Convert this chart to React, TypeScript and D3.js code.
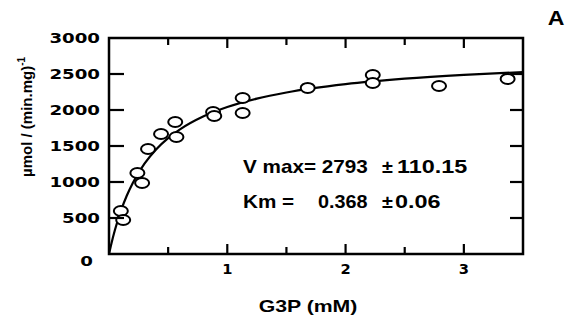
import React from "react";
import * as d3 from "d3";

// measured points: G3P (mM) vs activity
const g3p = [0.1, 0.12, 0.24, 0.28, 0.33, 0.44, 0.56, 0.57, 0.88, 0.89, 1.13, 1.13, 1.68, 2.23, 2.23, 2.79, 3.37];
const activity = [597, 472, 1125, 986, 1458, 1667, 1833, 1625, 1972, 1917, 2167, 1958, 2306, 2486, 2375, 2333, 2431];

// fitted curve
const fitX = [0, 0.02, 0.05, 0.1, 0.15, 0.2, 0.3, 0.4, 0.5, 0.6, 0.8, 1.0, 1.25, 1.5, 2.0, 2.5, 3.0, 3.5];
const fitY = [0, 144, 334, 597, 809, 983, 1254, 1455, 1609, 1731, 1913, 2042, 2158, 2243, 2359, 2435, 2488, 2527];

const yTicks = [0, 500, 1000, 1500, 2000, 2500, 3000];
const yInner = [500, 1000, 1500, 2000, 2500];
const xMajor = [1, 2, 3];
const xMinor = [0.5, 1.5, 2.5];

const width = 567;
const height = 321;
const margin = { left: 109, right: 44, top: 38, bottom: 67 };

const x0 = margin.left;
const x1 = width - margin.right;
const y0 = margin.top;
const y1 = height - margin.bottom;
const x = d3.scaleLinear().domain([0, 3.5]).range([x0, x1]);
const y = d3.scaleLinear().domain([0, 3000]).range([y1, y0]);

const Label = ({
  tx,
  ty,
  text,
  size,
  anchor = "start",
  sx = 1,
  family = "Liberation Sans",
}: {
  tx: number;
  ty: number;
  text: string;
  size: number;
  anchor?: string;
  sx?: number;
  family?: string;
}) => (
  <text
    transform={`translate(${tx},${ty}) scale(${sx},1)`}
    textAnchor={anchor}
    fontFamily={family}
    fontWeight="bold"
    fontSize={size}
    fill="#000"
  >
    {text}
  </text>
);

export default function App() {
  const line = d3
    .line<number>()
    .x((d) => x(d))
    .y((_, i) => y(fitY[i]))
    .curve(d3.curveMonotoneX);

  const xTicks = [...xMajor.map((v) => [v, 10]), ...xMinor.map((v) => [v, 7])];

  return (
    <svg
      width={width}
      height={height}
      style={{ position: "absolute", left: 0, top: 0, background: "#fff" }}
    >
      <path d={line(fitX) ?? ""} fill="none" stroke="#000" strokeWidth={2.2} />

      {g3p.map((d, i) => (
        <ellipse
          key={i}
          cx={x(d)}
          cy={y(activity[i])}
          rx={7}
          ry={5}
          fill="#fff"
          stroke="#000"
          strokeWidth={2}
        />
      ))}

      <rect
        x={x0}
        y={y0}
        width={x1 - x0}
        height={y1 - y0}
        fill="none"
        stroke="#000"
        strokeWidth={2.5}
      />

      {/* inner ticks on all four sides */}
      {yInner.map((v) => (
        <g key={"y" + v}>
          <line x1={x0} x2={x0 + 15} y1={y(v)} y2={y(v)} stroke="#000" strokeWidth={2.2} />
          <line x1={x1 - 13} x2={x1} y1={y(v)} y2={y(v)} stroke="#000" strokeWidth={2.2} />
        </g>
      ))}
      {xTicks.map(([v, len]) => (
        <g key={"x" + v}>
          <line x1={x(v)} x2={x(v)} y1={y0} y2={y0 + len} stroke="#000" strokeWidth={2.2} />
          <line x1={x(v)} x2={x(v)} y1={y1} y2={y1 - len} stroke="#000" strokeWidth={2.2} />
        </g>
      ))}

      {yTicks.map((v) =>
        v === 0 ? (
          <Label key={v} tx={93} ty={y(v) + 12} text="0" size={14} anchor="end" sx={1.3} family="DejaVu Sans" />
        ) : (
          <Label key={v} tx={100} ty={y(v) + 5} text={String(v)} size={14} anchor="end" sx={1.3} family="DejaVu Sans" />
        )
      )}
      {xMajor.map((v) => (
        <Label key={v} tx={x(v)} ty={274} text={String(v)} size={14} anchor="middle" sx={1.05} family="DejaVu Sans" />
      ))}

      <Label tx={308} ty={312} text="G3P (mM)" size={17} anchor="middle" sx={1.25} />
      <text
        transform="translate(32,177) rotate(-90)"
        fontFamily="Liberation Sans"
        fontWeight="bold"
        fontSize={15}
        fill="#000"
      >
        <tspan>µmol / (min.mg)</tspan>
        <tspan fontSize={10} dy={-7}>
          -1
        </tspan>
      </text>

      <Label tx={243} ty={173} text="V max= 2793" size={18} sx={1.15} />
      <Label tx={382} ty={173} text="±" size={18} sx={1.1} />
      <Label tx={397} ty={173} text="110.15" size={18} sx={1.3} />
      <Label tx={243} ty={208} text="Km =" size={18} sx={1.15} />
      <Label tx={318} ty={208} text="0.368" size={18} sx={1.1} />
      <Label tx={382} ty={208} text="±" size={18} sx={1.1} />
      <Label tx={395} ty={208} text="0.06" size={18} sx={1.3} />

      <Label tx={556} ty={25} text="A" size={21} anchor="middle" sx={1.1} />
    </svg>
  );
}
